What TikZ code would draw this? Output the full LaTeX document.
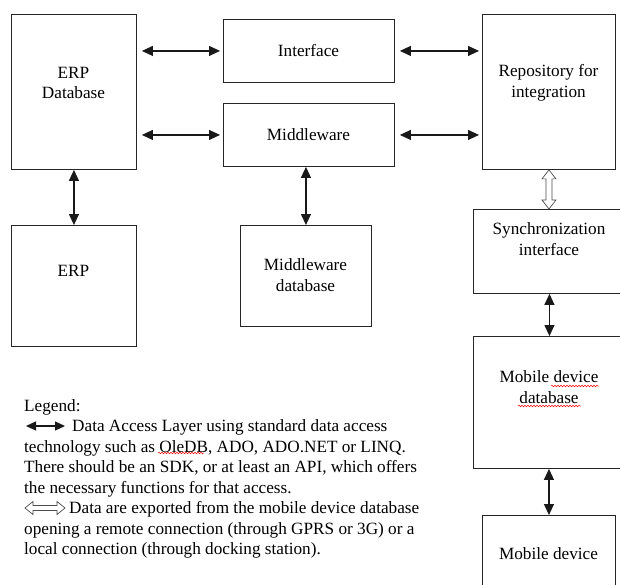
\documentclass[tikz,border=0pt]{standalone}
\usepackage{fontspec}
\setmainfont{Liberation Serif}
\usetikzlibrary{arrows.meta,calc,decorations.pathmorphing}
\begin{document}
\begin{tikzpicture}[x=1pt,y=-1pt,
    box/.style={draw=black!85, line width=0.9pt, anchor=north west, inner sep=0pt},
    txt/.style={align=center, inner sep=0pt, text=black, font=\fontsize{17.2}{20.5}\selectfont},
    arr/.style={line width=1.2pt, black!90, {Triangle[length=11pt,width=10pt]}-{Triangle[length=11pt,width=10pt]}},
    hollow/.style={draw=black!70, line width=0.7pt, fill=white, line join=miter},
    spell/.style={red, line width=0.5pt, decorate, decoration={snake, amplitude=0.8pt, segment length=3pt}}]
    \clip (0,0) rectangle (620,585);
    % boxes
    \node[box, minimum width=125, minimum height=155] (erpdb) at (11,14) {};
    \node[box, minimum width=171, minimum height=63] (iface) at (223,19) {};
    \node[box, minimum width=171, minimum height=63] (mw) at (223,103) {};
    \node[box, minimum width=133, minimum height=155] (repo) at (482,14) {};
    \node[box, minimum width=125, minimum height=121] (erp) at (11,225) {};
    \node[box, minimum width=131, minimum height=101] (mwdb) at (240,225) {};
    \node[box, minimum width=152, minimum height=84] (sync) at (473,209) {};
    \node[box, minimum width=152, minimum height=132] (mobdb) at (473,336) {};
    \node[box, minimum width=133, minimum height=90] (mob) at (482,515) {};
    % texts
    \node[txt] (erpdbtxt) at (73.5,83) {ERP\\Database};
    \node[txt] (ifacetxt) at (308.5,51) {Interface};
    \node[txt] (mwtxt) at (308.5,135) {Middleware};
    \node[txt] (repotxt) at (548.5,83) {Repository for\\integration};
    \node[txt] (erptxt) at (73.5,271) {ERP};
    \node[txt] (mwdbtxt) at (305.5,275) {Middleware\\database};
    \node[txt] (synctxt) at (549,239) {Synchronization\\interface};
    \node[txt] (mobdbtxt) at (549,387) {Mobile device\\database};
    \node[txt] (mobtxt) at (548.5,554) {Mobile device};
    % connectors
    \draw[arr, shorten <=5pt, shorten >=3pt] (iface.west -| erpdb.east) -- (iface.west);
    \draw[arr, shorten <=5pt, shorten >=3pt] (mw.west -| erpdb.east) -- (mw.west);
    \draw[arr, shorten <=5pt, shorten >=3pt] (iface.east) -- (iface.east -| repo.west);
    \draw[arr, shorten <=5pt, shorten >=3pt] (mw.east) -- (mw.east -| repo.west);
    \draw[arr] (erpdb.south) -- (erp.north);
    \draw[arr] (mwdb.north |- mw.south) -- (mwdb.north);
    \coordinate (synctop) at (repo.south |- sync.north);
    \draw[hollow] (repo.south) -- ++(7,9) -- ++(-4,0) -- ($(synctop)+(3,-9)$) -- ++(4,0)
      -- (synctop) -- ++(-7,-9) -- ++(4,0) -- ($(repo.south)+(-3,9)$) -- ++(-4,0) -- cycle;
    \draw[arr] (sync.south) -- (mobdb.north);
    \draw[arr] (mob.north |- mobdb.south) -- (mob.north);
    % legend
    \node[txt, align=left, anchor=north west] (legend) at (24,399) {Legend:\\
      \hspace*{48pt}Data Access Layer using standard data access\\
      technology such as OleDB, ADO, ADO.NET or LINQ.\\
      There should be an SDK, or at least an API, which offers\\
      the necessary functions for that access.\\
      \hspace*{45pt}Data are exported from the mobile device database\\
      opening a remote connection (through GPRS or 3G) or a\\
      local connection (through docking station).};
    \coordinate (dal1) at (26,426);
    \coordinate (dal2) at (65,426);
    \draw[arr, {Triangle[length=10pt,width=9pt]}-{Triangle[length=10pt,width=9pt]}] (dal1) -- (dal2);
    \coordinate (exp1) at (25,508);
    \coordinate (exp2) at (65,508);
    \draw[hollow] (exp1) -- ++(8,-6.5) -- ++(0,4) -- ($(exp2)+(-8,-2.5)$) -- ++(0,-4)
      -- (exp2) -- ++(-8,6.5) -- ++(0,-4) -- ($(exp1)+(8,2.5)$) -- ++(0,4) -- cycle;
    % spelling marks
    \draw[spell] (551,386) -- (599,386);
    \draw[spell] (518,406) -- (581,406);
    \draw[spell] (158,453) -- (204,453);
\end{tikzpicture}
\end{document}
